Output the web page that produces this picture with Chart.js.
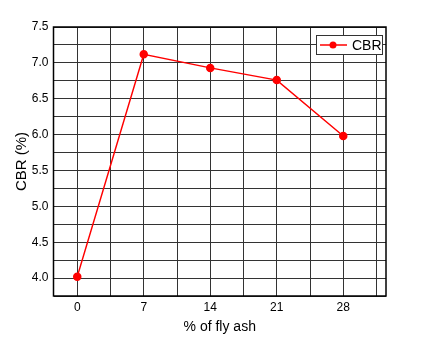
<!DOCTYPE html>
<html>
<head>
<meta charset="utf-8">
<script src="https://cdn.jsdelivr.net/npm/chart.js@4"></script>
<style>
  html, body { margin: 0; padding: 0; background: #fff; }
  canvas { display: block; }
</style>
</head>
<body>
<canvas id="grafico" width="432" height="346"></canvas>
<script>
// Datos
const flyAsh = [0, 7, 14, 21, 28];
const cbr = [4.02, 7.12, 6.93, 6.76, 5.98];
const xTicks = [0, 3.5, 7, 10.5, 14, 17.5, 21, 24.5, 28, 31.5];
const xLabels = [0, 7, 14, 21, 28];
const serieLabel = 'CBR';
const xTitle = '% of fly ash';
const yTitle = 'CBR (%)';

const FONT = "'Liberation Sans', Arial, sans-serif";

// Leyenda dibujada dentro del área del gráfico, con borde
const leyendaCaja = {
  id: 'leyendaCaja',
  afterDraw(chart) {
    const ctx = chart.ctx;
    const area = chart.chartArea;
    const ds = chart.data.datasets[0];
    const x = area.right - 70, y = area.top + 8, w = 66, h = 19;
    ctx.save();
    ctx.fillStyle = '#fff';
    ctx.fillRect(x, y, w, h);
    ctx.strokeStyle = '#333';
    ctx.lineWidth = 1;
    ctx.strokeRect(x + 0.5, y + 0.5, w, h);
    const cy = y + h / 2 + 0.5;
    ctx.strokeStyle = ds.borderColor;
    ctx.lineWidth = 1.5;
    ctx.beginPath();
    ctx.moveTo(x + 4, cy);
    ctx.lineTo(x + 31, cy);
    ctx.stroke();
    ctx.fillStyle = ds.pointBackgroundColor;
    ctx.beginPath();
    ctx.arc(x + 17, cy, 3.5, 0, Math.PI * 2);
    ctx.fill();
    ctx.fillStyle = '#000';
    ctx.font = '14px ' + FONT;
    ctx.textBaseline = 'middle';
    ctx.fillText(ds.label, x + 36, cy + 1);
    ctx.restore();
  }
};

// Marco del área del gráfico
const marco = {
  id: 'marco',
  afterDatasetsDraw(chart) {
    const ctx = chart.ctx;
    const a = chart.chartArea;
    ctx.save();
    ctx.strokeStyle = '#000';
    ctx.lineWidth = 1.5;
    ctx.strokeRect(a.left, a.top, a.right - a.left, a.bottom - a.top);
    ctx.restore();
  }
};

const ctx = document.getElementById('grafico').getContext('2d');
new Chart(ctx, {
  type: 'line',
  data: {
    datasets: [{
      label: serieLabel,
      data: flyAsh.map((v, i) => ({ x: v, y: cbr[i] })),
      borderColor: '#ff0000',
      backgroundColor: '#ff0000',
      pointBackgroundColor: '#ff0000',
      pointBorderColor: '#ff0000',
      borderWidth: 1.5,
      pointRadius: 3.5,
      tension: 0
    }]
  },
  options: {
    responsive: false,
    animation: false,
    layout: { padding: { left: 0, right: 46, top: 27, bottom: 0 } },
    plugins: {
      legend: { display: false },
      tooltip: { enabled: false }
    },
    scales: {
      x: {
        type: 'linear',
        min: -2.5,
        max: 32.5,
        afterFit: s => { s.height = 50; },
        afterBuildTicks: s => { s.ticks = xTicks.map(v => ({ value: v })); },
        ticks: {
          autoSkip: false,
          maxRotation: 0,
          color: '#000',
          padding: 4,
          font: { family: FONT, size: 12 },
          callback: v => xLabels.includes(v) ? String(v) : ''
        },
        grid: { color: '#333', lineWidth: 1, drawTicks: false },
        border: { display: false },
        title: {
          display: true,
          text: xTitle,
          color: '#000',
          font: { family: FONT, size: 14 },
          padding: { top: 0, bottom: 10 }
        }
      },
      y: {
        min: 3.75,
        max: 7.5,
        afterFit: s => { s.width = 53.5; },
        ticks: {
          stepSize: 0.25,
          autoSkip: false,
          color: '#000',
          padding: 5,
          font: { family: FONT, size: 12 },
          callback: v => Math.abs(v * 2 - Math.round(v * 2)) < 1e-6 && v >= 4 ? v.toFixed(1) : ''
        },
        grid: { color: '#333', lineWidth: 1, drawTicks: false },
        border: { display: false },
        title: {
          display: true,
          text: yTitle,
          color: '#000',
          font: { family: FONT, size: 15 },
          padding: { top: 13, bottom: 0 }
        }
      }
    }
  },
  plugins: [marco, leyendaCaja]
});
</script>
</body>
</html>
